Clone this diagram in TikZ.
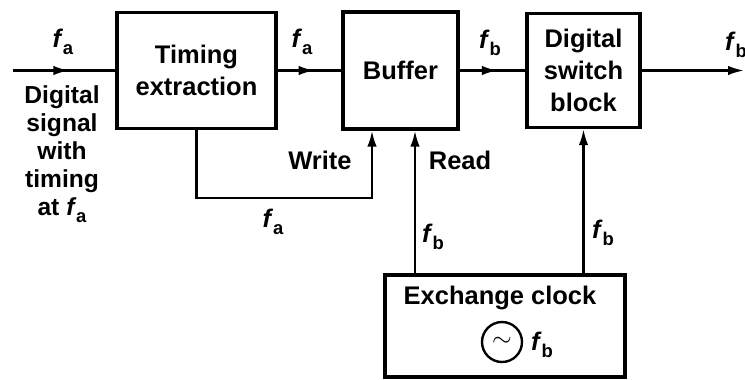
\documentclass[tikz,border=0pt]{standalone}
\usepackage{fontspec}
\setmainfont{Liberation Sans}
\usetikzlibrary{arrows.meta,decorations.markings}

\newcommand{\fsig}[1]{\textit{f}\kern-0.2pt\raisebox{-0.5ex}{\fontsize{10.5}{10.5}\selectfont #1}}

\begin{document}
\begin{tikzpicture}[
  font=\fontsize{14.5}{18}\selectfont\bfseries,
  block/.style={draw, line width=1.9pt, align=center, inner sep=2pt},
  note/.style={align=center},
  side/.style={align=center, font=\fontsize{14}{16}\selectfont\bfseries},
  wire/.style={line width=1.35pt},
  tip/.style={-{Latex[length=3.2mm,width=1.9mm]}, wire},
  midarrow/.style={wire, postaction={decorate},
    decoration={markings, mark=at position #1 with {\arrow{Latex[length=3.2mm,width=1.9mm]}}}}
]
\useasboundingbox[fill=white] (0,0) rectangle (14.9,-7.58);

\node[block, minimum width=3.18cm, minimum height=2.32cm] (timing) at (3.93,-1.41)
  {Timing\\extraction};
\node[block, minimum width=2.30cm, minimum height=2.34cm] (buffer) at (8.01,-1.41)
  {Buffer};
\node[block, minimum width=2.26cm, minimum height=2.28cm] (switch) at (11.67,-1.41)
  {Digital\\switch\\block};
\node[block, minimum width=4.80cm, minimum height=2.04cm] (clock) at (10.10,-6.52) {};

\node[note] (clocktxt) at (10.0,-5.96) {Exchange clock};
\node[draw, circle, line width=1.35pt, minimum size=0.8cm, inner sep=0pt] (osc) at (10.04,-6.84)
  {\Large$\sim$};
\node[note] (fosc) at (10.84,-6.90) {\fsig{b}};

\coordinate (in) at (0.26,-1.41);
\coordinate (out) at (14.88,-1.41);
\coordinate (loop) at (7.44,-3.96);

% main signal path
\draw[midarrow=0.55] (in) -- (timing.west);
\draw[midarrow=0.58] (timing.east) -- (buffer.west);
\draw[midarrow=0.58] (buffer.east) -- (switch.west);
\draw[tip] (switch.east) -- (out);

% write, read and switch clocks
\draw[tip] (timing.south) |- (loop) -- (loop |- buffer.south);
\draw[tip] ([xshift=2.9mm]buffer.south |- clock.north) -- ([xshift=2.9mm]buffer.south);
\draw[tip] (switch.south |- clock.north) -- (switch.south);

\node[note] (fin) at (1.26,-0.84) {\fsig{a}};
\node[side] (insig) at (1.24,-3.08) {Digital\\signal\\with\\timing\\at \fsig{a}};
\node[note] (fta) at (6.04,-0.84) {\fsig{a}};
\node[note] (ftb) at (9.80,-0.86) {\fsig{b}};
\node[note] (fout) at (14.72,-0.90) {\fsig{b}};
\node[note] (write) at (6.40,-3.20) {Write};
\node[note] (floop) at (5.46,-4.44) {\fsig{a}};
\node[note] (read) at (9.20,-3.20) {Read};
\node[note] (fread) at (8.66,-4.74) {\fsig{b}};
\node[note] (fsw) at (12.06,-4.66) {\fsig{b}};

\end{tikzpicture}
\end{document}
